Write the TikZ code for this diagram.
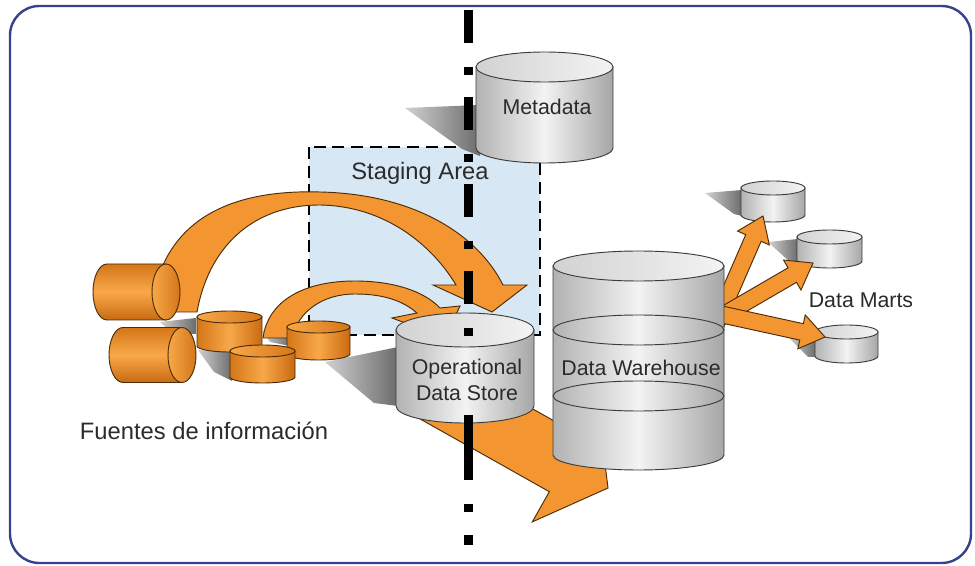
\documentclass[tikz,border=0pt]{standalone}
\usepackage{fontspec}
\setmainfont{Liberation Sans}
\usetikzlibrary{calc}

\definecolor{framecol}{HTML}{36438C}
\definecolor{stagecol}{HTML}{D8E7F4}
\definecolor{labelcol}{HTML}{2B2B2B}
\definecolor{cyledge}{HTML}{3C3C3C}
\definecolor{grey1}{HTML}{B2B2B2}
\definecolor{grey2}{HTML}{F3F3F3}
\definecolor{grey3}{HTML}{A6A6A6}
\definecolor{grey4}{HTML}{D2D2D2}
\definecolor{orng1}{HTML}{D47618}
\definecolor{orng2}{HTML}{F8A849}
\definecolor{orng3}{HTML}{C96A10}
\definecolor{arrowfill}{HTML}{F39632}
\definecolor{arrowline}{HTML}{4A2C08}

\tikzset{%
  frame/.style = {draw=framecol,line width=1.8pt,rounded corners=22pt,fill=white},
  staging/.style = {fill=stagecol,draw=black,line width=2.2pt,
        dash pattern=on 9pt off 5pt},
  shadow/.style = {draw=none,left color=black!18,right color=black!58},
  greybody/.style = {draw=cyledge,line width=0.7pt,left color=grey1,
        right color=grey3,middle color=grey2},
  greytop/.style = {draw=cyledge,line width=0.7pt,left color=grey4,
        right color=grey2},
  orangebody/.style = {draw=arrowline,line width=0.7pt,left color=orng1,
        right color=orng3,middle color=orng2},
  orangetop/.style = {draw=arrowline,line width=0.7pt,left color=orng2,
        right color=orng1},
  orangeside/.style = {draw=arrowline,line width=0.7pt,top color=orng1,
        bottom color=orng3,middle color=orng2},
  band/.style = {fill=arrowfill,draw=arrowline,line width=0.7pt},
  axisline/.style = {draw=black,line width=6.75pt},
  lbl/.style = {text=labelcol,font=\fontsize{16}{19.5}\selectfont,align=center},
  biglbl/.style = {lbl,font=\fontsize{17.8}{21}\selectfont}
}

% upright cylinder: style, name, left x, right x, top y, bottom y, y radius
\newcommand{\vcyl}[7]{%
  \pgfmathsetmacro\crx{0.375*(#4-#3)}
  \pgfmathsetmacro\cry{0.75*#7}
  \path[#1body] (#3,#5) -- (#3,#6)
    arc[start angle=180,end angle=360,x radius=\crx pt,y radius=\cry pt]
    -- (#4,#5) -- cycle;
  \path[#1top] ({(#3+#4)/2},#5) ellipse[x radius=\crx pt,y radius=\cry pt];
  \coordinate (#2) at ({(#3+#4)/2},{(#5+#6)/2});
}

% lying cylinder: name, back x, front x, centre y, half height, x radius
\newcommand{\hcyl}[6]{%
  \pgfmathsetmacro\crx{0.75*#6}
  \pgfmathsetmacro\cry{0.75*#5}
  \path[orangeside] (#3,{#4-#5}) -- (#2,{#4-#5})
    arc[start angle=90,end angle=270,x radius=\crx pt,y radius=\cry pt]
    -- (#3,{#4+#5}) -- cycle;
  \path[orangetop] (#3,#4) ellipse[x radius=\crx pt,y radius=\cry pt];
  \coordinate (#1) at (#3,#4);
}

% block arrow: tail, tip, half shaft, half head, head length
\newcommand{\fatarrow}[5]{%
  \coordinate (fa-base) at ($(#2)!#5!(#1)$);
  \path[band] ($(#1)!#3!90:(#2)$) -- ($(fa-base)!#3!90:(#2)$)
    -- ($(fa-base)!#4!90:(#2)$) -- (#2) -- ($(fa-base)!#4!-90:(#2)$)
    -- ($(fa-base)!#3!-90:(#2)$) -- ($(#1)!#3!-90:(#2)$) -- cycle;
}

\begin{document}
\begin{tikzpicture}[x=0.75pt,y=-0.75pt]
  \useasboundingbox (0,0) rectangle (975,566);
  \path[frame] (10,6) rectangle (971,563);

  % staging area
  \path[staging] (309,147) rectangle (540,335);

  % shadows
  \path[shadow] (405,108) -- (480,105) -- (480,156) -- (462,149) -- cycle;
  \path[shadow] (325,362) -- (398,347) -- (398,406) -- (374,403) -- cycle;
  \path[shadow] (705,193) -- (742,190) -- (742,216) -- (734,214) -- cycle;
  \path[shadow] (768,242) -- (798,239) -- (798,262) -- (790,262) -- cycle;
  \path[shadow] (788,337) -- (816,334) -- (816,357) -- (808,357) -- cycle;
  \path[shadow] (160,322) -- (196,318) -- (196,334) -- (172,333) -- cycle;
  \path[shadow] (198,350) -- (232,352) -- (232,381) -- (214,372) -- cycle;
  \path[shadow] (262,331) -- (290,330) -- (290,346) -- (270,342) -- cycle;

  % ODS -> warehouse
  \coordinate (ods-out) at (425,385);
  \coordinate (dw-in) at (608,488);
  \fatarrow{ods-out}{dw-in}{24pt}{50pt}{37pt}

  % data marts
  \vcyl{grey}{mart1}{741}{805}{188}{215}{7}
  \vcyl{grey}{mart2}{797}{862}{237}{261}{7}
  \vcyl{grey}{mart3}{815}{878}{332}{356}{7}
  \coordinate (dw-out1) at (716,324);
  \coordinate (dw-out2) at (715,320);
  \coordinate (dw-out3) at (715,313);
  \coordinate (mart1-in) at (763,216);
  \coordinate (mart2-in) at (813,263);
  \coordinate (mart3-in) at (825,337);
  \fatarrow{dw-out1}{mart1-in}{6.3pt}{13pt}{18pt}
  \fatarrow{dw-out2}{mart2-in}{6.3pt}{13pt}{18pt}
  \fatarrow{dw-out3}{mart3-in}{6.3pt}{13pt}{18pt}

  % loading arcs
  \path[band] (163,265) .. controls (190,205) and (255,190) .. (320,192)
    .. controls (415,194) and (478,235) .. (503,285) -- (527,285)
    -- (492,312) -- (433,285) -- (456,285)
    .. controls (432,245) and (385,206) .. (320,205)
    .. controls (250,205) and (208,250) .. (197,312) -- (172,312) -- cycle;
  \path[band] (263,338) .. controls (268,300) and (305,281) .. (355,281)
    .. controls (395,281) and (425,292) .. (440,308) -- (460,306)
    -- (445,338) -- (392,318) -- (417,313)
    .. controls (402,300) and (382,294) .. (355,294)
    .. controls (322,294) and (298,312) .. (292,338) -- cycle;

  % sources
  \hcyl{srcA}{107}{166}{292}{28}{14}
  \hcyl{srcB}{123}{182}{355}{27.5}{14}
  \vcyl{orange}{srcC}{197}{262}{317}{346}{6}
  \vcyl{orange}{srcE}{287}{350}{327}{354}{6}
  \vcyl{orange}{srcD}{230}{295}{351}{377}{6}

  % stores
  \vcyl{grey}{meta}{476}{613}{67}{148}{15}
  \vcyl{grey}{ods}{396}{534}{330}{406}{17}
  \vcyl{grey}{dw}{553}{724}{266}{455}{15}
  \draw[cyledge,line width=0.7pt] (dw |- 0,330) ellipse[x radius=64.1pt,y radius=11.25pt];
  \draw[cyledge,line width=0.7pt] (dw |- 0,396) ellipse[x radius=64.1pt,y radius=11.25pt];

  % dash-dot separator
  \draw[axisline,dash pattern=on 24.75pt off 18pt on 6pt off 16.5pt]
    (468,10) -- (468,338);
  \draw[axisline,dash pattern=on 48.75pt off 18pt on 6pt off 17.25pt on 7.5pt off 20pt]
    (468,415) -- (468,546);

  % labels
  \node[biglbl] (stagelbl) at (420,173) {Staging Area};
  \node[lbl] (metalbl) at (547,107) {Metadata};
  \node[lbl] (odslbl) at (467,380) {Operational\\Data Store};
  \node[lbl] (dwlbl) at (641,368) {Data Warehouse};
  \node[lbl] (martlbl) at (861,300) {Data Marts};
  \node[biglbl] (srclbl) at (204,431) {Fuentes de información};
\end{tikzpicture}
\end{document}
